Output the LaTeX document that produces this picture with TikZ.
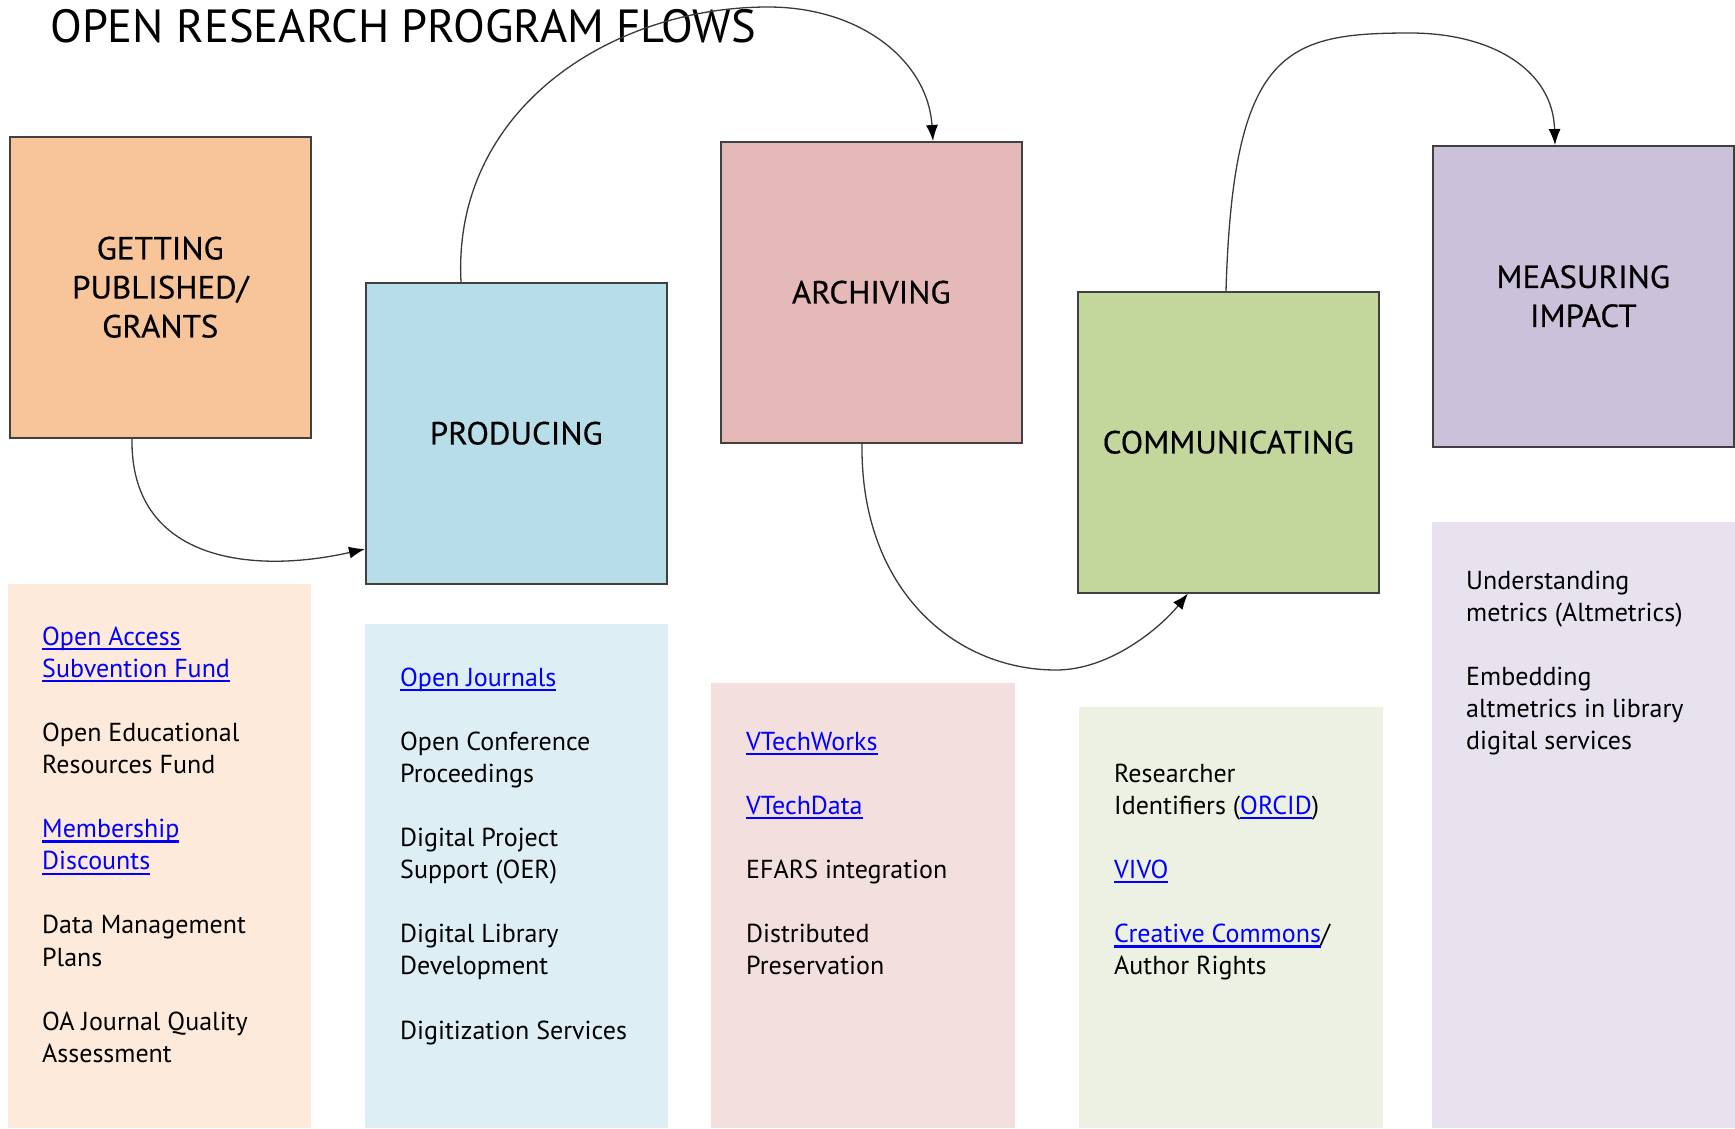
\documentclass[tikz,border=0pt]{standalone}
\usepackage{fontspec}
\setmainfont{PT Sans}
\newfontfamily\stagefont[FakeBold=0.4,FakeStretch=1.03]{PT Sans}
\usetikzlibrary{arrows.meta,calc}
\definecolor{bordergray}{HTML}{404040}
\definecolor{linegray}{HTML}{3A3A3A}
\definecolor{linkblue}{HTML}{0000FF}
\definecolor{getcol}{HTML}{F8C49A}
\definecolor{prodcol}{HTML}{B7DDE8}
\definecolor{archcol}{HTML}{E5B9B7}
\definecolor{commcol}{HTML}{C3D69B}
\definecolor{meascol}{HTML}{CCC1DA}
\definecolor{pgetcol}{HTML}{FDEADA}
\definecolor{pprodcol}{HTML}{DEEEF5}
\definecolor{parchcol}{HTML}{F2DFDE}
\definecolor{pcommcol}{HTML}{EDF1E3}
\definecolor{pmeascol}{HTML}{E7E2EE}
\newsavebox\lnkbox
\newcommand{\lnk}[1]{\leavevmode\sbox\lnkbox{\color{linkblue}#1}{\color{linkblue}\rlap{\usebox\lnkbox}\rule[-5pt]{\wd\lnkbox}{2.2pt}}}
\begin{document}
\begin{tikzpicture}[x=1pt,y=-1pt,
  stage/.style={draw=bordergray, line width=1.5pt, minimum width=301pt, minimum height=301pt,
    inner sep=0pt, align=center, anchor=north west, font=\stagefont\fontsize{32}{39}\selectfont},
  panel/.style={inner sep=0pt, minimum width=303pt, anchor=north west},
  flow/.style={draw=linegray, line width=1.3pt, -{Latex[length=16pt,width=12pt,color=black]}},
  item/.style={anchor=base west, inner sep=0pt, font=\fontsize{26}{32.1}\selectfont}]
\useasboundingbox (0,0) rectangle (1735,1128);
\fill[white] (0,0) rectangle (1735,1128);

% lower panels
\node[panel, fill=pgetcol, minimum height=544pt] (pget) at (8,584) {};
\node[panel, fill=pprodcol, minimum height=504pt] (pprod) at (365,624) {};
\node[panel, fill=parchcol, minimum height=445pt, minimum width=304pt] (parch) at (711,683) {};
\node[panel, fill=pcommcol, minimum height=421pt, minimum width=304pt] (pcomm) at (1079,707) {};
\node[panel, fill=pmeascol, minimum height=606pt] (pmeas) at (1432,522) {};

% stage boxes
\node[stage, fill=getcol] (get) at (9,136) {GETTING\\PUBLISHED/\\GRANTS};
\node[stage, fill=prodcol] (prod) at (365,282) {PRODUCING};
\node[stage, fill=archcol] (arch) at (720,141) {ARCHIVING};
\node[stage, fill=commcol] (comm) at (1077,291) {COMMUNICATING};
\node[stage, fill=meascol] (meas) at (1432,145) {MEASURING\\IMPACT};

% title
\node[anchor=base west, inner sep=0pt, font=\fontsize{46.5}{52}\selectfont] (title) at (50,42)
  {OPEN RESEARCH PROGRAM FLOWS};

% panel texts
\node[item] (tget) at (42,645) {\parbox[t]{265pt}{\raggedright
  \lnk{Open Access}\\\lnk{Subvention Fund}\\[32.1pt]
  Open Educational\\Resources Fund\\[32.1pt]
  \lnk{Membership}\\\lnk{Discounts}\\[32.1pt]
  Data Management\\Plans\\[32.1pt]
  OA Journal Quality\\Assessment}};
\node[item] (tprod) at (400,686) {\parbox[t]{265pt}{\raggedright
  \lnk{Open Journals}\\[32.1pt]
  Open Conference\\Proceedings\\[32.1pt]
  Digital Project\\Support (OER)\\[32.1pt]
  Digital Library\\Development\\[32.1pt]
  Digitization Services}};
\node[item] (tarch) at (746,750) {\parbox[t]{265pt}{\raggedright
  \lnk{VTechWorks}\\[32.1pt]
  \lnk{VTechData}\\[32.1pt]
  EFARS integration\\[32.1pt]
  Distributed\\Preservation}};
\node[item] (tcomm) at (1114,782) {\parbox[t]{265pt}{\raggedright
  Researcher\\Identifiers (\lnk{ORCID})\\[32.1pt]
  \lnk{VIVO}\\[32.1pt]
  \lnk{Creative Commons}/\\Author Rights}};
\node[item] (tmeas) at (1466,589) {\parbox[t]{265pt}{\raggedright
  Understanding\\metrics (Altmetrics)\\[32.1pt]
  Embedding\\altmetrics in library\\digital services}};

% flows
\draw[flow] ($(get.south west)+(123,0)$) .. controls (130,560) and (250,575) .. ($(prod.north west)+(0,267)$);
\draw[flow] ($(prod.north west)+(96,0)$) .. controls (452,110) and (610,7) .. (768,7)
  .. controls (862,7) and (928,62) .. ($(arch.north west)+(213,0)$);
\draw[flow] ($(arch.south west)+(142,0)$) .. controls (860,590) and (955,670) .. (1056,670)
  .. controls (1110,670) and (1160,628) .. ($(comm.south west)+(111,0)$);
\draw[flow] ($(comm.north west)+(149,0)$) .. controls (1233,50) and (1285,33) .. (1410,33)
  .. controls (1492,33) and (1553,70) .. ($(meas.north west)+(123,0)$);
\end{tikzpicture}
\end{document}
